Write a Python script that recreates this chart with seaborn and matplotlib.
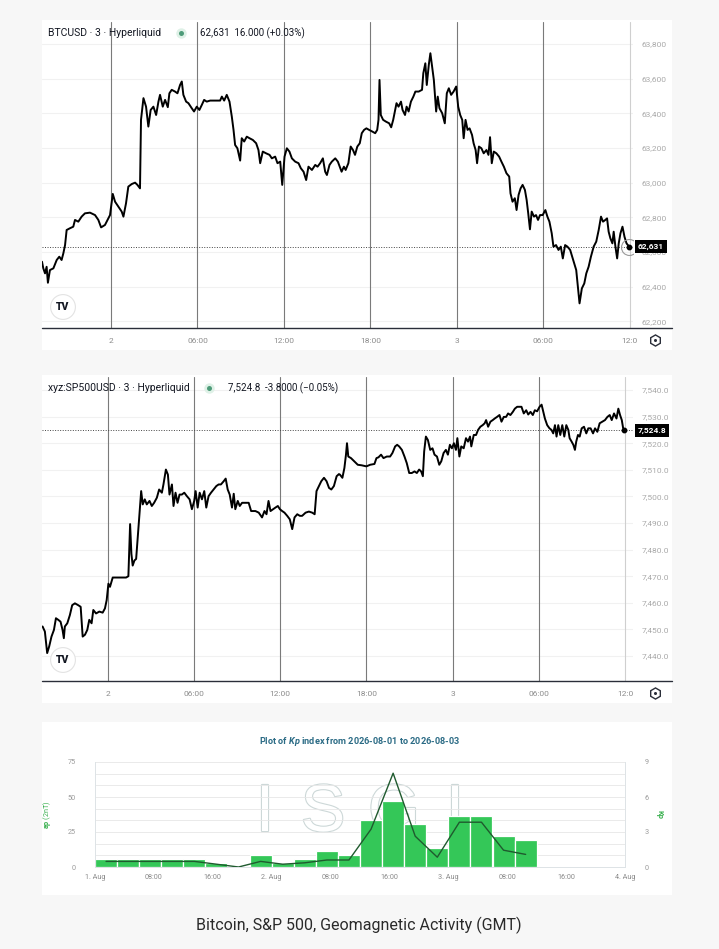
import numpy as np
import pandas as pd
import seaborn as sns
import matplotlib.pyplot as plt
import matplotlib.transforms as mtransforms
from matplotlib.patches import Rectangle
from matplotlib.lines import Line2D
from matplotlib import patheffects

W, H = 719, 949

# ---------------- data ----------------
# hours since 2026-08-02 00:00 GMT, 3-minute candles
btc_hours = [-4.79, -4.70, -4.58, -4.47, -4.38, -4.24, -4.00, -3.77, -3.59, -3.43, -3.31, -3.19, -3.08, -2.85,
             -2.62, -2.50, -2.27, -2.04, -1.81, -1.46, -1.11, -0.88, -0.69, -0.42, -0.19, -0.07, 0.12, 0.28,
             0.51, 0.74, 0.86, 1.04, 1.20, 1.44, 1.67, 1.83, 2.01, 2.08, 2.25, 2.43, 2.59, 2.75, 2.94, 3.13,
             3.29, 3.40, 3.59, 3.75, 3.94, 4.05, 4.21, 4.44, 4.61, 4.79, 4.91, 5.02, 5.21, 5.37, 5.60, 5.76,
             5.95, 6.13, 6.30, 6.46, 6.64, 6.88, 7.22, 7.57, 7.69, 7.85, 8.03, 8.22, 8.38, 8.50, 8.61, 8.77,
             8.96, 9.07, 9.24, 9.42, 9.61, 9.84, 10.07, 10.23, 10.35, 10.53, 10.76, 11.00, 11.16, 11.39,
             11.55, 11.74, 11.88, 12.04, 12.20, 12.38, 12.55, 12.78, 13.01, 13.17, 13.36, 13.54, 13.70,
             13.94, 14.17, 14.33, 14.51, 14.70, 14.86, 14.98, 15.16, 15.32, 15.56, 15.74,
             16.00, 16.16, 16.28, 16.47, 16.63, 16.79, 16.93, 17.09, 17.26, 17.40, 17.56, 17.72, 17.91,
             18.14, 18.33, 18.47, 18.56, 18.63, 18.72, 18.88, 19.07, 19.30, 19.44, 19.58, 19.72, 19.81,
             19.95, 20.12, 20.23, 20.40, 20.51, 20.65, 20.81, 20.98, 21.12, 21.35, 21.58, 21.67, 21.81,
             21.91, 22.05, 22.16, 22.28, 22.40, 22.56, 22.67, 22.79, 22.98, 23.16, 23.30, 23.44, 23.60,
             23.77, 23.95, 24.09, 24.23, 24.37, 24.47, 24.60, 24.74, 24.88, 25.05, 25.16, 25.30, 25.40,
             25.53, 25.70, 25.86, 26.05, 26.19, 26.30, 26.42, 26.56, 26.74, 26.93, 27.09, 27.26, 27.44,
             27.63, 27.72, 27.86, 28.02, 28.14, 28.28, 28.42, 28.56, 28.72, 28.84, 28.95, 29.07, 29.19,
             29.35, 29.49, 29.63, 29.77, 29.95, 30.14, 30.28, 30.42, 30.58, 30.70, 30.88, 31.05, 31.21,
             31.35, 31.51, 31.67, 31.86, 32.00, 32.14, 32.28, 32.37, 32.51, 32.67, 32.84, 32.98, 33.14,
             33.30, 33.49, 33.67, 33.84, 34.00, 34.14, 34.30, 34.42, 34.53, 34.65, 34.79, 34.88, 35.00,
             35.12, 35.23, 35.35, 35.49, 35.63, 35.77, 35.95]
btc_price = [62544, 62506, 62477, 62515, 62423, 62496, 62506, 62554, 62573, 62554, 62592, 62640, 62727, 62737,
             62746, 62785, 62775, 62804, 62823, 62827, 62813, 62785, 62742, 62756, 62794, 62813, 62935, 62890,
             62862, 62833, 62804, 62881, 62977, 62992, 63000, 62987, 62967, 63362, 63487, 63438, 63323, 63419,
             63438, 63390, 63467, 63506, 63438, 63477, 63435, 63515, 63535, 63525, 63515, 63563, 63583, 63506,
             63467, 63458, 63429, 63410, 63438, 63419, 63448, 63477, 63467, 63473, 63473, 63473, 63496, 63473,
             63506, 63467, 63381, 63304, 63217, 63198, 63127, 63256, 63237, 63265, 63256, 63246, 63227, 63188,
             63112, 63179, 63169, 63160, 63140, 63150, 63112, 63121, 62987, 63150, 63198, 63179, 63140, 63121,
             63112, 63083, 63063, 63015, 63092, 63073, 63102, 63092, 63112, 63140, 63063, 63044, 63102, 63121,
             63140, 63121,
             63063, 63092, 63073, 63112, 63208, 63188, 63160, 63208, 63227, 63285, 63304, 63313, 63304,
             63294, 63285, 63304, 63362, 63592, 63390, 63362, 63352, 63342, 63319, 63362, 63419, 63458,
             63438, 63467, 63419, 63390, 63438, 63410, 63467, 63496, 63525, 63525, 63535, 63631, 63688,
             63563, 63679, 63746, 63669, 63592, 63410, 63496, 63429, 63400, 63342, 63515, 63544, 63506,
             63525, 63554, 63438, 63390, 63362, 63256, 63362, 63304, 63313, 63275, 63227, 63188, 63112,
             63208, 63198, 63169, 63188, 63160, 63262, 63112, 63179, 63169, 63150, 63121, 63092, 63054,
             63035, 62938, 62890, 62910, 62842, 62929, 62967, 62987, 62958, 62900, 62823, 62731, 62833,
             62804, 62813, 62785, 62813, 62813, 62842, 62804, 62775, 62708, 62631, 62640, 62612, 62631,
             62563, 62640, 62631, 62612, 62573, 62535, 62496, 62419, 62304, 62390, 62419, 62477, 62515,
             62573, 62631, 62660, 62727, 62804, 62775, 62785, 62794, 62717, 62679, 62650, 62717, 62631,
             62563, 62650, 62708, 62746, 62688, 62650, 62631]

spx_hours = [-4.53, -4.37, -4.21, -4.07, -3.91, -3.74, -3.60, -3.44, -3.28, -3.14, -3.05, -2.98, -2.81, -2.63,
             -2.47, -2.28, -2.05, -1.88, -1.74, -1.58, -1.42, -1.28, -1.12, -1.00, -0.81, -0.58, -0.35, -0.19,
             -0.07, 0.05, 0.16, 0.35, 0.63, 0.98, 1.28, 1.44, 1.56, 1.65, 1.74, 1.86, 1.98, 2.09, 2.19, 2.33,
             2.44, 2.58, 2.72, 2.91, 3.07, 3.23, 3.42, 3.58, 3.77, 3.88, 4.05, 4.19, 4.30, 4.47, 4.58, 4.72,
             4.86, 5.00, 5.16, 5.33, 5.51, 5.70, 5.86, 6.02, 6.12, 6.26, 6.40, 6.56, 6.72, 6.86, 7.02, 7.19,
             7.37, 7.56, 7.72, 7.88, 8.07, 8.21, 8.35, 8.49, 8.65, 8.77, 8.88, 9.05, 9.19, 9.35, 9.51, 9.81,
             9.98, 10.28, 10.51, 10.74, 10.91, 11.05, 11.19, 11.33, 11.51, 11.67, 11.84, 11.98, 12.14, 12.30,
             12.49, 12.67, 12.84, 13.00, 13.19, 13.37, 13.53, 13.77, 14.00, 14.23, 14.40, 14.53, 14.70, 14.86,
             15.05, 15.23, 15.40, 15.56, 15.74, 15.93, 16.09,
             16.16, 16.33, 16.47, 16.58, 16.65, 16.74, 16.93, 17.16, 17.40, 17.67, 18.00, 18.26, 18.56,
             18.70, 18.84, 19.02, 19.19, 19.42, 19.65, 19.81, 20.00, 20.14, 20.28, 20.47, 20.65, 20.81,
             20.98, 21.16, 21.35, 21.51, 21.67, 21.81, 21.93, 22.02, 22.14, 22.28, 22.44, 22.60, 22.74,
             22.91, 23.07, 23.21, 23.37, 23.53, 23.67, 23.81, 23.95, 24.09, 24.23, 24.33, 24.47, 24.60,
             24.77, 24.93, 25.07, 25.21, 25.30, 25.47, 25.63, 25.77, 25.93, 26.09, 26.23, 26.33, 26.47,
             26.63, 26.79, 26.93, 27.09, 27.26, 27.40, 27.56, 27.72, 27.86, 28.02, 28.19, 28.33, 28.49,
             28.65, 28.79, 28.95, 29.12, 29.26, 29.42, 29.58, 29.72, 29.88, 30.05, 30.19, 30.28, 30.42,
             30.58, 30.74, 30.88, 31.00, 31.12, 31.23, 31.35, 31.49, 31.63, 31.77, 31.91, 32.05, 32.14,
             32.28, 32.40, 32.51, 32.60, 32.72, 32.84, 32.98, 33.14, 33.30, 33.44, 33.60, 33.77, 33.91,
             34.07, 34.23, 34.42, 34.60, 34.77, 34.93, 35.07, 35.23, 35.40, 35.53, 35.65, 35.77, 35.86,
             35.95]
spx_price = [7451.1, 7449.2, 7441.1, 7443.6, 7447.3, 7449.8, 7454.2, 7453.6, 7452.9, 7449.8, 7446.7, 7451.1,
             7452.3, 7455.4, 7459.1, 7459.8, 7459.1, 7458.5, 7447.3, 7448.0, 7449.8, 7453.6, 7452.3, 7457.3,
             7456.0, 7456.7, 7456.3, 7457.9, 7461.0, 7467.2, 7466.0, 7469.5, 7469.5, 7469.5, 7469.5, 7470.0,
             7489.6, 7478.4, 7474.0, 7475.9, 7476.5, 7484.6, 7491.4, 7502.0, 7497.0, 7498.9, 7497.0, 7498.3,
             7496.4, 7497.6, 7499.5, 7502.6, 7501.4, 7504.5, 7510.1, 7508.2, 7500.7, 7504.5, 7496.4, 7501.4,
             7497.6, 7500.7, 7500.7, 7501.4, 7500.1, 7498.9, 7495.2, 7498.3, 7502.0, 7495.8, 7501.4, 7498.9,
             7502.0, 7495.8, 7500.1, 7501.4, 7502.6, 7503.9, 7504.5, 7504.5, 7505.7, 7506.7, 7502.6, 7500.7,
             7495.8, 7501.0, 7495.2, 7498.3, 7496.4, 7497.6, 7497.6, 7497.6, 7494.5, 7494.5, 7493.9, 7492.1,
             7494.5, 7493.3, 7498.3, 7494.5, 7495.2, 7495.8, 7496.4, 7495.2, 7494.5, 7493.9, 7492.7, 7491.4,
             7487.7, 7492.1, 7493.3, 7492.7, 7492.7, 7493.9, 7494.3, 7493.9, 7493.3, 7502.0, 7503.9, 7505.7,
             7507.0, 7505.7, 7503.2, 7502.6, 7503.9, 7507.6, 7508.4,
             7508.2, 7507.0, 7510.7, 7515.7, 7520.0, 7515.0, 7514.4, 7513.2, 7511.9, 7511.7, 7511.3, 7511.9,
             7512.2, 7514.4, 7514.7, 7515.7, 7514.4, 7515.0, 7515.0, 7516.3, 7518.8, 7519.4, 7518.8, 7517.5,
             7515.0, 7512.5, 7508.8, 7508.8, 7509.4, 7508.8, 7510.1, 7509.4, 7507.6, 7516.9, 7522.5, 7521.2,
             7517.5, 7518.1, 7515.7, 7515.0, 7511.9, 7513.2, 7516.3, 7517.5, 7515.7, 7519.4, 7518.1, 7520.0,
             7517.5, 7521.9, 7515.0, 7518.8, 7518.1, 7521.9, 7520.6, 7522.5, 7518.8, 7523.1, 7523.1, 7525.0,
             7526.2, 7526.8, 7527.5, 7528.7, 7526.2, 7528.1, 7528.7, 7529.3, 7529.9, 7530.6, 7528.1, 7529.9,
             7529.9, 7531.2, 7530.6, 7531.8, 7533.0, 7533.7, 7533.7, 7533.7, 7531.2, 7532.4, 7530.8, 7531.8,
             7530.6, 7532.4, 7532.0, 7533.7, 7534.5, 7532.4, 7529.3, 7526.8, 7525.6, 7525.0, 7523.7, 7526.8,
             7522.5, 7526.8, 7523.1, 7526.8, 7522.5, 7526.8, 7525.0, 7521.9, 7520.6, 7519.4, 7517.5, 7520.6,
             7523.1, 7522.5, 7525.6, 7526.2, 7523.7, 7525.6, 7525.6, 7523.7, 7525.6, 7524.3, 7527.5, 7528.1,
             7528.7, 7529.9, 7530.6, 7528.7, 7531.2, 7529.3, 7533.0, 7530.6, 7528.7, 7525.8, 7524.8]

btc_last, btc_change, btc_pct = 62631, 16.000, 0.03
spx_last, spx_change, spx_pct = 7524.8, -3.8000, -0.05

btc_ticks = [62200, 62400, 62600, 62800, 63000, 63200, 63400, 63600, 63800]
spx_ticks = [7440, 7450, 7460, 7470, 7480, 7490, 7500, 7510, 7520, 7530, 7540]
time_ticks = [0, 6, 12, 18, 24, 30, 36]
time_labels = ['2', '06:00', '12:00', '18:00', '3', '06:00', '12:0']

# Kp (3-hourly) and ap, hours since 2026-08-01 00:00
kp_start = [0, 3, 6, 9, 12, 15, 18, 21, 24, 27, 30, 33, 36, 39, 42, 45, 48, 51, 54, 57]
kp_values = [0.67, 0.67, 0.67, 0.67, 0.67, 0.33, 0.0, 1.0, 0.33, 0.67, 1.33, 1.0,
             4.0, 5.67, 3.67, 1.67, 4.33, 4.33, 2.67, 2.33]
ap_values = [4, 4, 4, 4, 4, 2, 0, 4, 2, 3, 5, 5, 27, 67, 22, 7, 32, 32, 12, 9]
kp_ticks = [0, 8, 16, 24, 32, 40, 48, 56, 64, 72]
kp_tick_labels = ['1. Aug', '08:00', '16:00', '2. Aug', '08:00', '16:00', '3. Aug', '08:00', '16:00', '4. Aug']

# ---------------- style ----------------
sns.set_theme(style="white")
plt.rcParams['font.family'] = ['Roboto', 'DejaVu Sans']
plt.rcParams['mathtext.fontset'] = 'custom'
plt.rcParams['mathtext.it'] = 'Roboto:italic:bold'
plt.rcParams['mathtext.bf'] = 'Roboto:bold'
plt.rcParams['mathtext.rm'] = 'Roboto'

fig = plt.figure(figsize=(W / 100, H / 100), dpi=100, facecolor='#f7f7f7')


def rect(x0, y0, x1, y1):
    # pixel box (top-left origin) -> figure fraction
    return [x0 / W, 1 - y1 / H, (x1 - x0) / W, (y1 - y0) / H]


def fpt(x, y):
    return x / W, 1 - y / H


def panel(x0, y0, x1, y1):
    fig.add_artist(Rectangle((x0 / W, 1 - y1 / H), (x1 - x0) / W, (y1 - y0) / H,
                             transform=fig.transFigure, fc='white', ec='none', zorder=-5))


def price_chart(top, bottom, hours, price, xlim, ylim, ticks, fmt, last, header, quote, hx_dot, hx_quote, ring):
    panel(42, top - 2, 672, bottom + 22)
    ax = fig.add_axes(rect(42, top, 633, bottom))
    ax.patch.set_visible(False)
    df = pd.DataFrame({'hours': hours, 'price': price})
    sns.lineplot(data=df, x='hours', y='price', ax=ax, color='black', lw=1.4,
                 sort=False, estimator=None, zorder=4)
    ax.set_xlim(xlim)
    ax.set_ylim(ylim)
    ax.set_xlabel('')
    ax.set_ylabel('')
    ax.yaxis.tick_right()
    ax.set_yticks(ticks)
    ax.set_yticklabels([fmt.format(v) for v in ticks])
    ax.tick_params(axis='y', length=0, pad=6, labelsize=6, labelcolor='#a9a9a9')
    ax.set_xticks(time_ticks)
    ax.set_xticklabels(time_labels)
    ax.tick_params(axis='x', length=0, pad=7, labelsize=6, labelcolor='#8c8c8c')
    ax.grid(True, axis='y', color='#f1f1f1', lw=0.8)
    ax.set_axisbelow(True)
    for h in time_ticks:
        ax.axvline(h, color='#7a7a7a' if h < 36 else '#cfcfcf', lw=0.8, zorder=1)
    for s in ax.spines.values():
        s.set_visible(False)
    ax.axhline(last, color='#444444', lw=0.7, ls=(0, (1, 1.6)), zorder=3)

    # end point
    ax.plot(hours[-1], price[-1], 'o', ms=3.2, color='black', zorder=5)
    if ring:
        ax.plot(hours[-1], price[-1], 'o', ms=11.5, mfc='none', mec='#9a9a9a', mew=0.8, zorder=5)

    # price label on the scale
    tr = mtransforms.blended_transform_factory(ax.transAxes, ax.transData)
    ax.text(1.008, last, fmt.format(last), transform=tr, ha='left', va='center', fontsize=6,
            color='white', fontweight='bold', clip_on=False, zorder=6,
            bbox=dict(boxstyle='square,pad=0.35', fc='black', ec='none'))

    # bottom axis line across chart and scale
    yb = 1 - bottom / H
    fig.add_artist(Line2D([42 / W, 672 / W], [yb, yb], color='#2a2e39', lw=1.0, transform=fig.transFigure))

    # header
    hy = top + 11
    fig.text(*fpt(48, hy), header, fontsize=7.5, color='#131722', va='center')
    fig.add_artist(Line2D([hx_dot / W], [1 - hy / H], marker='o', ms=7.5, mfc='#dff1e7', mec='none',
                          transform=fig.transFigure))
    fig.add_artist(Line2D([hx_dot / W], [1 - hy / H], marker='o', ms=3.6, mfc='#4e9b79', mec='none',
                          transform=fig.transFigure))
    fig.text(*fpt(hx_quote, hy), quote, fontsize=7.0, color='#131722', va='center')

    # TradingView logo
    fig.text(*fpt(63, bottom - 21), 'TV', fontsize=7.5, fontweight='heavy', color='#131722',
             ha='center', va='center',
             bbox=dict(boxstyle='circle,pad=0.55', fc='white', ec='#e3e3e3', lw=0.8))

    # scale settings icon
    gy = 1 - (bottom + 12) / H
    fig.add_artist(Line2D([655 / W], [gy], marker='h', ms=8, mfc='white', mec='#2a2e39', mew=1.0,
                          transform=fig.transFigure))
    fig.add_artist(Line2D([655 / W], [gy], marker='o', ms=2.2, mfc='#2a2e39', mec='none',
                          transform=fig.transFigure))
    return ax


price_chart(22, 328, btc_hours, btc_price, (-4.79, 36.22), (62162, 63926), btc_ticks, '{:,.0f}',
            btc_last, 'BTCUSD · 3 · Hyperliquid',
            f'{btc_last:,.0f}  {btc_change:.3f} ({btc_pct:+.2f}%)',
            181, 200, True)

price_chart(377, 681, spx_hours, spx_price, (-4.57, 36.55), (7430.6, 7544.9), spx_ticks, '{:,.1f}',
            spx_last, 'xyz:SP500USD · 3 · Hyperliquid',
            f'{spx_last:,.1f}  {spx_change:.4f} (\u2212{abs(spx_pct):.2f}%)',
            209, 228, False)

# ---------------- Kp / ap chart ----------------
panel(42, 722, 672, 895)
axk = fig.add_axes(rect(95, 762, 625, 867))
axp = axk.twinx()
axk.set_zorder(3)
axp.set_zorder(2)
axk.patch.set_visible(False)
axp.patch.set_visible(False)

kp_df = pd.DataFrame({'center': [s + 1.5 for s in kp_start], 'kp': kp_values, 'ap': ap_values})
sns.histplot(data=kp_df, x='center', weights='kp', binwidth=3, binrange=(0, 60), ax=axp,
             color='#34c758', alpha=1, edgecolor='white', linewidth=0.9, zorder=2)
sns.lineplot(data=kp_df, x='center', y='ap', ax=axk, color='#1f5a2e', lw=1.0)

axk.set_xlim(0, 72)
axk.set_ylim(0, 75)
axp.set_ylim(0, 9)
axk.set_xticks(kp_ticks)
axk.set_xticklabels(kp_tick_labels)
axk.set_yticks([0, 25, 50, 75])
axp.set_yticks([0, 3, 6, 9])
axp.set_yticks(range(10), minor=True)
axp.grid(True, which='both', axis='y', color='#e6e6e6', lw=0.6)
axp.set_axisbelow(True)
axk.tick_params(axis='x', length=0, pad=5, labelsize=5.2, labelcolor='#8a8a8a')
axk.tick_params(axis='y', length=0, pad=14, labelsize=5.2, labelcolor='#9a9a9a')
axp.tick_params(axis='y', which='both', length=0, pad=14, labelsize=5.2, labelcolor='#9a9a9a')

for name, s in axk.spines.items():
    s.set_visible(name in ('left', 'right', 'bottom'))
    s.set_color('#dde3e6')
    s.set_linewidth(0.7)
for s in axp.spines.values():
    s.set_visible(False)

axk.set_xlabel('')
axk.set_ylabel(r'$\bf{ap}$ (2nT)', color='#3ab04f', fontsize=5.2)
axk.yaxis.set_label_coords((53 - 95) / 530, 0.5)
axp.set_ylabel('Kp', color='#3ab04f', fontsize=5.4, fontweight='bold', rotation=270, va='center')
axp.yaxis.set_label_coords((659 - 95) / 530, 0.5)

# ISGI watermark
for letter, px in zip('ISGI', [265, 323, 394, 455]):
    axp.text((px - 95) / 530, 0.505, letter, transform=axp.transAxes, ha='center', va='center',
             fontsize=48, family='Liberation Sans', color='white', zorder=0.5,
             path_effects=[patheffects.withStroke(linewidth=1.6, foreground='#cdd8d8')])

fig.text(*fpt(360, 741), r'Plot of $\it{Kp}$ index from 2026-08-01 to 2026-08-03',
         ha='center', va='center', fontsize=6.6, fontweight='bold', color='#2b6b85')

fig.text(*fpt(359, 925), 'Bitcoin, S&P 500, Geomagnetic Activity (GMT)', ha='center', va='center',
         fontsize=11.5, color='#2a2a2a')

fig.savefig('out.png', dpi=100, facecolor=fig.get_facecolor())
